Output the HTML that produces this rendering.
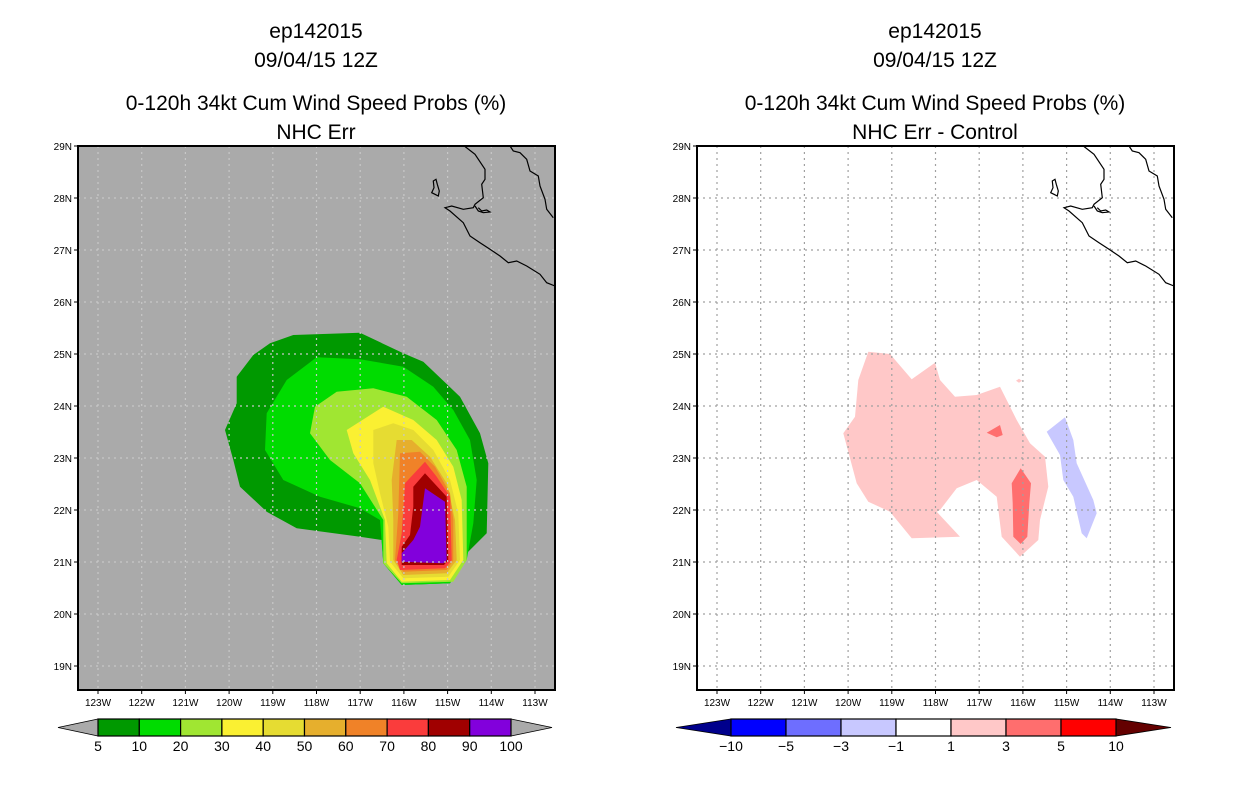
<!DOCTYPE html>
<html><head><meta charset="utf-8"><style>
html,body{margin:0;padding:0;background:#fff;}
svg{display:block;font-family:"Liberation Sans",sans-serif;}
</style></head><body>
<svg id="chart" width="1236" height="800" viewBox="0 0 1236 800" xmlns="http://www.w3.org/2000/svg"></svg>
<script>
// ---- data ----
const latTicks = [29,28,27,26,25,24,23,22,21,20,19];
const lonTicks = [123,122,121,120,119,118,117,116,115,114,113];
const probLevels = ["5","10","20","30","40","50","60","70","80","90","100"];
const probColors = ["#009900","#00dc00","#a0e632","#faf032","#e6dc32","#e6af2d","#f08228","#fa3c3c","#a00000","#8200dc"];
const diffLevels = ["-10","-5","-3","-1","1","3","5","10"];
const diffColors = ["#0000ff","#6e6eff","#c8c8ff","#ffffff","#ffc8c8","#ff6e6e","#ff0000"];
// contour vertices in a sub-frame (3x scale of region at origin offset), mapped via toPix
const probPolys = [
 [[220,45],[420,38],[550,100],[610,125],[720,230],[780,340],[805,430],[800,640],[740,700],[690,790],[545,795],[490,730],[485,660],[420,650],[230,625],[140,575],[60,500],[40,420],[15,330],[50,250],[50,170],[100,105],[150,70]],
 [[290,112],[420,118],[550,140],[640,200],[700,270],[750,360],[770,480],[760,610],[740,720],[690,790],[545,795],[490,730],[480,600],[420,565],[300,530],[190,480],[135,390],[140,280],[200,180]],
 [[350,215],[460,205],[560,230],[650,300],[710,390],[740,500],[740,720],[700,785],[545,790],[490,730],[490,600],[420,490],[330,420],[270,340],[285,260]],
 [[380,330],[490,260],[580,300],[650,360],[700,440],[725,540],[730,720],[690,780],[545,785],[500,730],[495,600],[450,480],[400,400]],
 [[460,330],[520,310],[580,330],[640,390],[690,480],[715,580],[720,720],[685,770],[550,775],[510,725],[505,620],[480,520],[460,430]],
 [[530,360],[575,360],[630,410],[680,490],[705,600],[710,720],[680,760],[550,765],[520,720],[520,600],[515,480]],
 [[540,400],[600,395],[645,440],[690,520],[700,600],[700,720],[680,750],[550,755],[525,720],[535,580]],
 [[555,490],[615,425],[650,470],[690,530],[695,720],[675,745],[540,750],[530,720],[545,640]],
 [[580,500],[615,460],[680,530],[685,720],[672,735],[545,735],[545,680],[570,645],[580,560]],
 [[615,505],[675,545],[680,720],[670,730],[545,725],[545,700],[580,660],[600,620]]
];
const diffPolys = [
 {c:4,p:[[115,35],[180,42],[245,118],[315,68],[330,120],[375,170],[440,165],[510,140],[560,240],[600,310],[645,350],[655,440],[630,540],[625,600],[570,650],[515,590],[500,470],[440,420],[380,445],[330,510],[320,515],[390,590],[245,595],[180,515],[115,485],[80,430],[40,280],[75,230],[85,120]]},
 {c:4,p:[[558,122],[567,116],[576,122],[567,128]]},
 {c:5,p:[[470,278],[510,255],[518,285],[500,292]]},
 {c:5,p:[[545,430],[572,385],[603,430],[598,490],[592,590],[572,612],[550,590],[548,490]]},
 {c:2,p:[[650,275],[705,232],[730,300],[740,370],[790,480],[800,520],[770,595],[755,580],[730,470],[700,420],[690,345]]}
];
const coast1 = [[133,0],[165,25],[195,70],[195,100],[185,115],[190,155],[165,175],[160,185],[130,190],[95,180],[75,185],[90,195],[130,230],[150,270],[180,290],[210,310],[240,330],[265,350],[290,345],[320,360],[360,385],[380,410],[405,420]];
const coast2 = [[270,0],[280,15],[300,20],[320,40],[330,75],[355,90],[360,120],[375,160],[380,190],[400,215]];
const island = [[40,105],[48,100],[52,115],[58,135],[55,150],[45,145],[35,140],[42,125]];
const gulf = [[165,180],[175,195],[190,200],[210,198],[200,192],[185,195],[175,185]];

// ---- axes ----
const panels = [{x0:78,name:'left'},{x0:697,name:'right'}];
const Y0=146, Y1=690, LAT0=29, DY=52, LON0=123, DX=43.7, LONX=20;
function yOf(lat){return Y0+(LAT0-lat)*DY;}
function xOf(p,lon){return p.x0+LONX+(LON0-lon)*DX;}
const svg=document.getElementById('chart');
const NS='http://www.w3.org/2000/svg';
function el(tag,attrs,parent){const e=document.createElementNS(NS,tag);for(const k in attrs)e.setAttribute(k,attrs[k]);(parent||svg).appendChild(e);return e;}
function txt(s,attrs,parent){const t=el('text',attrs,parent);t.textContent=s;return t;}
function pts(arr,fx,fy){return arr.map(q=>fx(q[0]).toFixed(1)+','+fy(q[1]).toFixed(1)).join(' ');}

const titles=[["ep142015","09/04/15 12Z","0-120h 34kt Cum Wind Speed Probs (%)","NHC Err"],
              ["ep142015","09/04/15 12Z","0-120h 34kt Cum Wind Speed Probs (%)","NHC Err - Control"]];
const titleY=[38,67,110,139];

panels.forEach((p,i)=>{
  const cx=p.x0+238;
  titleY.forEach((ty,j)=>{
    const t=txt(titles[i][j],{x:cx,y:ty,'text-anchor':'middle','font-size':21,fill:'#000'});
    
    
  });
  const W=477;
  const bg=el('rect',{x:p.x0,y:Y0,width:W,height:Y1-Y0,fill:i==0?'#aaaaaa':'#ffffff'});
  
  
  const ox = i==0 ? 220 : 830, oy = i==0 ? 320 : 340;
  const fx=v=>ox+(v/3), fy=v=>oy+v/3;
  if(i==0){
    probPolys.forEach((poly,k)=>{
      const g=el('polygon',{points:pts(poly,fx,fy),fill:probColors[k]});
      
      
    });
  } else {
    diffPolys.forEach((d,k)=>{
      const g=el('polygon',{points:pts(d.p,fx,fy),fill:diffColors[d.c]});
      
      
    });
  }
  const gc=i==0?'#c8c8c8':'#a0a0a0';
  lonTicks.forEach(lon=>{
    const x=xOf(p,lon);
    const l=el('line',{x1:x,y1:Y0,x2:x,y2:Y1,stroke:gc,'stroke-width':1.2,'stroke-dasharray':'2,4'});
    
    
    el('line',{x1:x,y1:Y1,x2:x,y2:Y1+4,stroke:'#000','stroke-width':1});
    const t=txt(lon+'W',{x:x,y:Y1+16,'text-anchor':'middle','font-size':10,fill:'#000'});
    
    
  });
  latTicks.forEach(lat=>{
    const y=yOf(lat);
    if(lat<29){
      const l=el('line',{x1:p.x0,y1:y,x2:p.x0+W,y2:y,stroke:gc,'stroke-width':1.2,'stroke-dasharray':'2,4'});
      
      
    }
    el('line',{x1:p.x0-4,y1:y,x2:p.x0,y2:y,stroke:'#000','stroke-width':1});
    const t=txt(lat+'N',{x:p.x0-6,y:y+4,'text-anchor':'end','font-size':10,fill:'#000'});
    
    
  });
  const cxo=p.x0+342, cyo=146;
  const cfx=v=>cxo+v/3, cfy=v=>cyo+v/3;
  [coast1,coast2,gulf].forEach((c,k)=>{
    const l=el('polyline',{points:pts(c,cfx,cfy),fill:'none',stroke:'#000','stroke-width':1.2});
    
    
  });
  const isl=el('polygon',{points:pts(island,cfx,cfy),fill:'none',stroke:'#000','stroke-width':1.2});
  
  
  const fr=el('rect',{x:p.x0,y:Y0,width:W,height:Y1-Y0,fill:'none',stroke:'#000','stroke-width':2});
  
  
});

function colorbar(x0,x1,bx0,bw,colors,labels,leftCol,rightCol,name){
  const y0=719,y1=736,ym=727.5;
  const g=el('g',{});
  
  
  const bx1=bx0+bw*colors.length;
  el('polygon',{points:`${x0},${ym} ${bx0},${y0} ${bx0},${y1}`,fill:leftCol,stroke:'#000','stroke-width':0.8},g);
  el('polygon',{points:`${x1},${ym} ${bx1},${y0} ${bx1},${y1}`,fill:rightCol,stroke:'#000','stroke-width':0.8},g);
  colors.forEach((c,k)=>{
    const r=el('rect',{x:bx0+k*bw,y:y0,width:bw,height:y1-y0,fill:c,stroke:'#000','stroke-width':1.2},g);
    
    
  });
  labels.forEach((s,k)=>{
    const t=txt(s.replace('-','\u2212'),{x:bx0+k*bw,y:751,'text-anchor':'middle','font-size':14,fill:'#000'},g);
    
    
  });
}
colorbar(58,552,98,41.3,probColors,probLevels,'#aaaaaa','#aaaaaa','prob-colorbar');
colorbar(676,1171,731,55,diffColors,diffLevels,'#00008c','#640000','diff-colorbar');
</script>
</body></html>
